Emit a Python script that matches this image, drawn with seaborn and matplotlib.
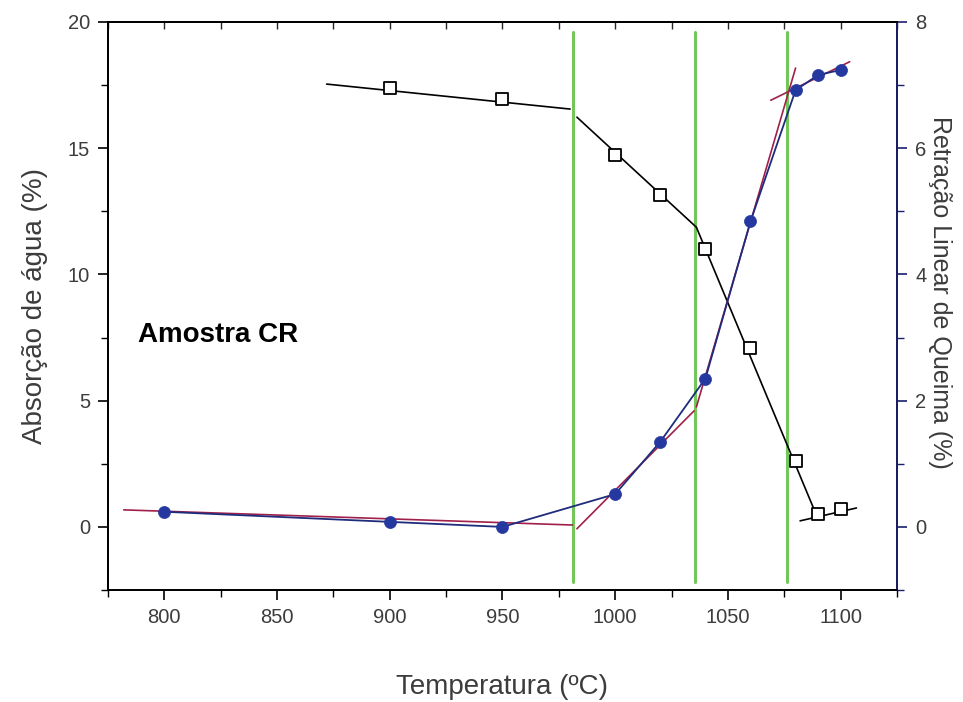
import matplotlib
matplotlib.use("Agg")
import matplotlib.pyplot as plt
import seaborn as sns
import pandas as pd
from matplotlib.ticker import MultipleLocator

# ---- data ----
temps_ret = [800, 900, 950, 1000, 1020, 1040, 1060, 1080, 1090, 1100]
retracao = [0.24, 0.08, 0.0, 0.52, 1.35, 2.35, 4.84, 6.92, 7.16, 7.24]

temps_abs = [900, 950, 1000, 1020, 1040, 1060, 1080, 1090, 1100]
absorcao = [17.38, 16.94, 14.72, 13.13, 10.99, 7.10, 2.62, 0.52, 0.71]

# linear-fit segments (start/end temperatures and values)
abs_fit_x = [[872, 980], [983, 1036], [1036, 1089], [1082, 1107]]
abs_fit_y = [[17.54, 16.55], [16.23, 11.87], [11.87, 0.52], [0.24, 0.75]]
ret_fit_x = [[782, 981], [983, 1035], [1036, 1080], [1069, 1104]]
ret_fit_y = [[0.27, 0.03], [-0.03, 1.84], [1.90, 7.27], [6.76, 7.37]]

green_x = [981.3, 1035.3, 1076.4]

xlabel = "Temperatura (ºC)"
ylabel_left = "Absorção de água (%)"
ylabel_right = "Retração Linear de Queima (%)"
annot = "Amostra CR"

# ---- style ----
sns.set_theme(style="ticks")
plt.rcParams["font.family"] = ["Liberation Sans", "DejaVu Sans"]
txt_col = "#3c3c3c"

fig = plt.figure(figsize=(9.63, 7.02), dpi=100)
ax = fig.add_axes([0.1121, 0.1595, 0.8194, 0.8092])
ax2 = ax.twinx()

# green vertical lines
for gx in green_x:
    ax.plot([gx, gx], [-2.2, 19.6], color="#72c65a", lw=2.2, zorder=1)

# absorption fits (black)
for xs, ys in zip(abs_fit_x, abs_fit_y):
    sns.lineplot(x=xs, y=ys, ax=ax, color="black", lw=1.2, zorder=3)

# absorption points: open squares
df_abs = pd.DataFrame({"T": temps_abs, "A": absorcao})
sns.scatterplot(data=df_abs, x="T", y="A", ax=ax, marker="s", s=65,
                facecolor="white", edgecolor="black", linewidth=1.3, zorder=5)

# retraction fits (maroon)
for xs, ys in zip(ret_fit_x, ret_fit_y):
    sns.lineplot(x=xs, y=ys, ax=ax2, color="#a0204a", lw=1.2, zorder=3)

# retraction data line + points (navy)
df_ret = pd.DataFrame({"T": temps_ret, "R": retracao})
sns.lineplot(data=df_ret, x="T", y="R", ax=ax2, color="#1f2c7c", lw=1.3, zorder=4)
sns.scatterplot(data=df_ret, x="T", y="R", ax=ax2, marker="o", s=75,
                color="#2438a0", edgecolor="#2438a0", linewidth=0.5, zorder=6)

# ---- axes ----
ax.set_xlim(775, 1125)
ax.set_ylim(-2.5, 20)
ax2.set_ylim(-1, 8)

ax.xaxis.set_minor_locator(MultipleLocator(25))
ax.set_xticks([800, 850, 900, 950, 1000, 1050, 1100])
ax.yaxis.set_minor_locator(MultipleLocator(2.5))
ax.set_yticks([0, 5, 10, 15, 20])
ax2.yaxis.set_minor_locator(MultipleLocator(1))
ax2.set_yticks([0, 2, 4, 6, 8])

for a in (ax, ax2):
    for sp in a.spines.values():
        sp.set_visible(True)
        sp.set_linewidth(1.3)
        sp.set_color("black")
ax2.spines["right"].set_color("#1b1f6b")

ax.tick_params(axis="both", which="major", direction="out", length=7, width=1.2,
               labelsize=14.5, labelcolor=txt_col, color="black", pad=6)
ax.tick_params(axis="both", which="minor", direction="out", length=5, width=1.0,
               color="black")
ax2.tick_params(axis="y", which="major", direction="out", length=7, width=1.2,
                labelsize=14.5, labelcolor=txt_col, color="#1b1f6b", pad=6)
ax2.tick_params(axis="y", which="minor", direction="out", length=5, width=1.0,
                color="#1b1f6b")

sec = ax.secondary_xaxis("top")
sec.set_xticks([800, 850, 900, 950, 1000, 1050, 1100])
sec.xaxis.set_minor_locator(MultipleLocator(25))
sec.tick_params(axis="x", which="both", direction="in", length=5, width=1.0,
                labeltop=False)
sec.spines["top"].set_linewidth(1.3)

ax.set_xlabel(xlabel, fontsize=20, color=txt_col, labelpad=34)
ax.set_ylabel(ylabel_left, fontsize=20, color=txt_col, labelpad=14)
ax2.set_ylabel("")
fig.text(940 / 963, 1 - 292 / 702, ylabel_right, fontsize=18, color=txt_col,
         rotation=270, ha="center", va="center")

ax.text(788.5, 7.6, annot, fontsize=20, fontweight="bold", color="black",
        va="center", ha="left")

ax.grid(False)
ax2.grid(False)
ax.set_facecolor("white")
fig.patch.set_facecolor("white")

fig.savefig("out.png", dpi=100, facecolor="white")
